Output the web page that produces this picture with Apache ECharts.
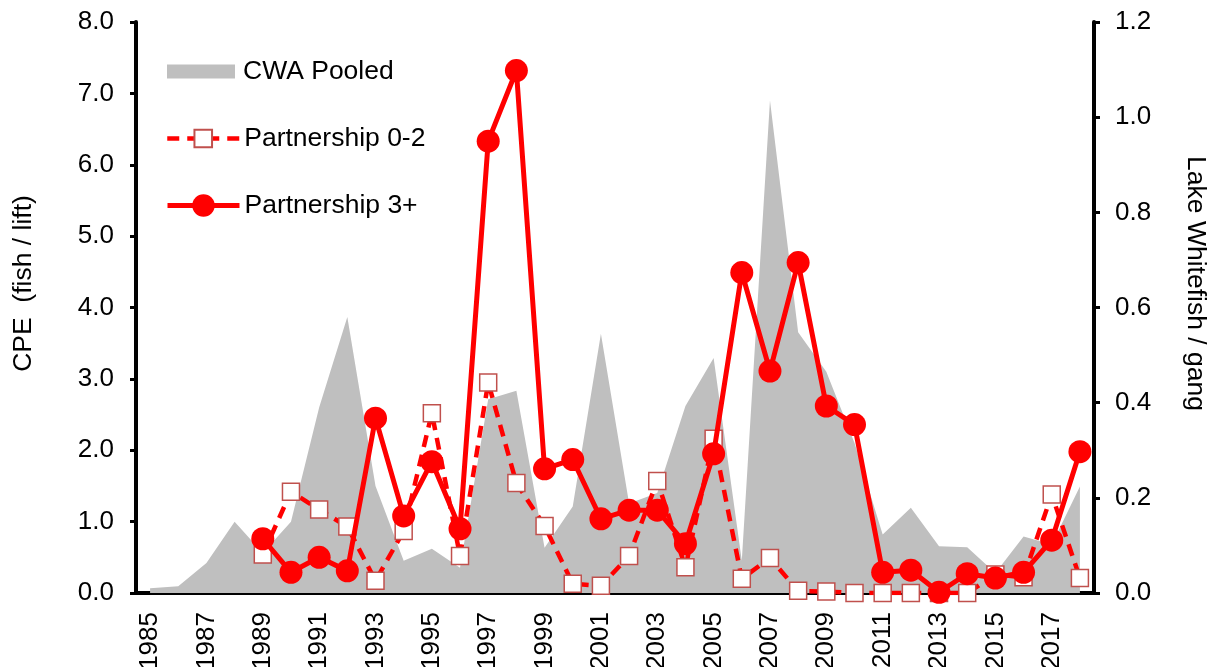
<!DOCTYPE html>
<html>
<head>
<meta charset="utf-8">
<title>CPE chart</title>
<script src="https://cdn.jsdelivr.net/npm/echarts@6/dist/echarts.min.js"></script>
<style>
  html, body { margin: 0; padding: 0; background: #fff; }
  #chart { width: 1209px; height: 667px; }
</style>
</head>
<body>
<div id="chart"></div>
<script>
// years on the x axis
const years = []
for (let y = 1985; y <= 2018; y++) years.push(String(y))

// CWA pooled gill net CPE (right axis, fish / gang), 1985-2018
const cwaPooled = [0.010, 0.014, 0.063, 0.150, 0.084, 0.150, 0.390, 0.580, 0.225, 0.068,
  0.093, 0.053, 0.407, 0.425, 0.095, 0.182, 0.545, 0.188, 0.210, 0.393,
  0.494, 0.068, 1.035, 0.548, 0.465, 0.315, 0.123, 0.179, 0.098, 0.096,
  0.042, 0.119, 0.102, 0.224]

// Partnership trap net CPE (left axis, fish / lift), starts 1989
const partner02 = [null, null, null, null, 0.54, 1.42, 1.17, 0.93, 0.17, 0.87,
  2.52, 0.52, 2.95, 1.54, 0.94, 0.13, 0.10, 0.52, 1.57, 0.36,
  2.16, 0.20, 0.49, 0.03, 0.02, 0.00, 0.00, 0.00, 0.00, 0.00,
  0.26, 0.22, 1.38, 0.21]

const partner3 = [null, null, null, null, 0.76, 0.29, 0.50, 0.31, 2.45, 1.08,
  1.84, 0.90, 6.33, 7.32, 1.74, 1.87, 1.04, 1.16, 1.16, 0.69,
  1.95, 4.49, 3.11, 4.63, 2.62, 2.36, 0.29, 0.32, 0.01, 0.27,
  0.21, 0.29, 0.74, 1.98]

const leftTicks = { min: 0, max: 8, interval: 1 }
const rightTicks = { min: 0, max: 1.2, interval: 0.2 }

const font = 'Liberation Sans, Arial, sans-serif'
const legendText = { fontSize: 26.5, color: '#000', fontFamily: font }

const option = {
  animation: false,
  textStyle: { fontFamily: font },
  grid: { left: 136, right: 115, top: 22, bottom: 74, outerBoundsMode: 'none' },
  legend: [
    {
      data: [{ name: 'CWA Pooled', icon: 'rect' }],
      left: 167, top: 58, padding: 0,
      itemWidth: 68, itemHeight: 14,
      textStyle: { ...legendText, padding: [0, 0, 0, 3] }
    },
    {
      data: [{ name: 'Partnership 0-2', lineStyle: { width: 4.5 } }],
      left: 165, top: 125, padding: 0,
      itemWidth: 72, itemHeight: 22,
      textStyle: legendText
    },
    {
      data: [{ name: 'Partnership 3+', lineStyle: { width: 5 } }],
      left: 165, top: 192, padding: 0,
      itemWidth: 72, itemHeight: 28,
      textStyle: legendText
    }
  ],
  xAxis: {
    type: 'category',
    data: years,
    boundaryGap: true,
    axisLine: { lineStyle: { color: '#000', width: 4 } },
    axisTick: { interval: 0, length: 6, lineStyle: { width: 3 } },
    axisLabel: { interval: 1, rotate: 90, fontSize: 26, color: '#000', margin: 19 }
  },
  yAxis: [
    {
      type: 'value',
      ...leftTicks,
      name: 'CPE  (fish / lift)',
      nameLocation: 'middle',
      nameGap: 99,
      nameTextStyle: { fontSize: 26.5, color: '#000', padding: [0, 0, 0, 48] },
      axisLine: { show: true, lineStyle: { color: '#000', width: 4 } },
      axisTick: { show: true, length: 6, lineStyle: { width: 3 } },
      axisLabel: { fontSize: 26, color: '#000', margin: 22, formatter: v => v.toFixed(1) },
      splitLine: { show: false }
    },
    {
      type: 'value',
      position: 'right',
      ...rightTicks,
      name: 'Lake Whitefish / gang',
      nameLocation: 'middle',
      nameRotate: -90,
      nameGap: 88,
      nameTextStyle: { fontSize: 26.5, color: '#000', padding: [0, 48, 0, 0] },
      axisLine: { show: true, lineStyle: { color: '#000', width: 4 } },
      axisTick: { show: true, length: 6, lineStyle: { width: 3 } },
      axisLabel: { fontSize: 26, color: '#000', margin: 21, formatter: v => v.toFixed(1) },
      splitLine: { show: false }
    }
  ],
  series: [
    {
      name: 'CWA Pooled',
      type: 'line',
      yAxisIndex: 1,
      data: cwaPooled,
      symbol: 'none',
      lineStyle: { width: 0 },
      itemStyle: { color: '#bfbfbf' },
      areaStyle: { color: '#bfbfbf', opacity: 1 },
      z: 1
    },
    {
      name: 'Partnership 0-2',
      type: 'line',
      data: partner02,
      symbol: 'rect',
      symbolSize: 17,
      showAllSymbol: true,
      itemStyle: { color: '#fff', borderColor: '#c0504d', borderWidth: 1.5 },
      lineStyle: { color: '#ff0000', width: 4.5, type: [12, 8] },
      z: 3
    },
    {
      name: 'Partnership 3+',
      type: 'line',
      data: partner3,
      symbol: 'circle',
      symbolSize: 23,
      showAllSymbol: true,
      itemStyle: { color: '#ff0000' },
      lineStyle: { color: '#ff0000', width: 5 },
      z: 4
    }
  ]
}

const chart = echarts.init(document.getElementById('chart'))
chart.setOption(option)
</script>
</body>
</html>
